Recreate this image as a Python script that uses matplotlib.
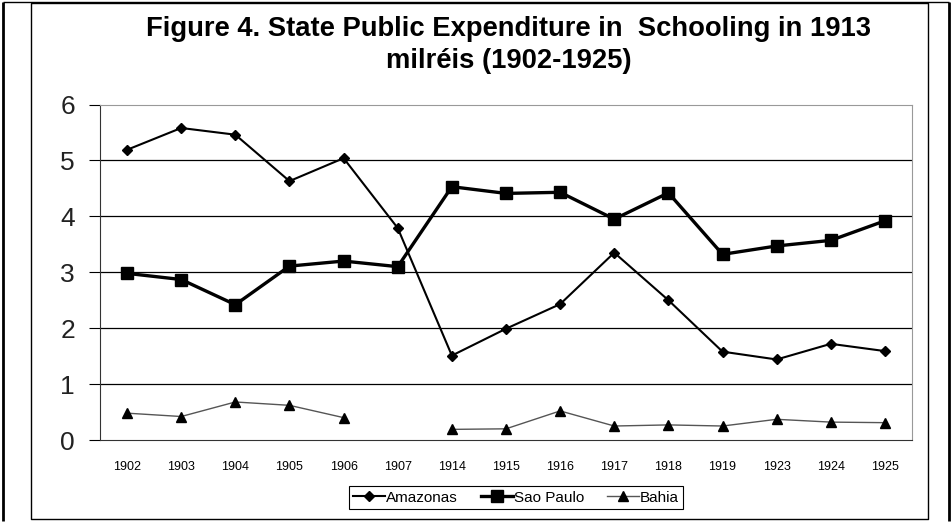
import numpy as np
import matplotlib
matplotlib.use("Agg")
import matplotlib.pyplot as plt
from matplotlib.lines import Line2D

years = ["1902", "1903", "1904", "1905", "1906", "1907", "1914", "1915",
         "1916", "1917", "1918", "1919", "1923", "1924", "1925"]
amazonas = [5.19, 5.58, 5.46, 4.63, 5.04, 3.79, 1.51, 1.99, 2.43, 3.35, 2.50,
            1.58, 1.44, 1.72, 1.59]
sao_paulo = [2.98, 2.87, 2.42, 3.11, 3.20, 3.10, 4.53, 4.41, 4.43, 3.95, 4.42,
             3.32, 3.47, 3.57, 3.92]
bahia = [0.48, 0.42, 0.68, 0.62, 0.40, np.nan, 0.19, 0.20, 0.52, 0.25, 0.27,
         0.25, 0.37, 0.32, 0.31]

plt.rcParams['font.family'] = ['Liberation Sans', 'DejaVu Sans']

W, H = 953, 522
fig = plt.figure(figsize=(W / 100, H / 100), dpi=100, facecolor='white')

# plot area in pixel coords
left, right, top, bottom = 100, 912, 104.5, 440
ax = fig.add_axes([left / W, 1 - bottom / H, (right - left) / W, (bottom - top) / H])
ax.set_facecolor('white')

x = np.arange(len(years))
ax.plot(x, amazonas, color='black', lw=1.5, marker='D', ms=5.5, label='Amazonas')
ax.plot(x, sao_paulo, color='black', lw=2.4, marker='s', ms=9, label='Sao Paulo')
ax.plot(x, bahia, color='#555555', lw=1.0, marker='^', ms=6.5,
        mfc='black', mec='black', label='Bahia')

ax.set_xlim(-0.5, len(years) - 0.5)
ax.set_ylim(0, 6)
ax.set_yticks(range(7))
ax.set_xticks(x)
ax.set_xticklabels(years, fontsize=9)
ax.tick_params(axis='x', length=0, pad=15)
ax.tick_params(axis='y', length=8, width=0.8, labelsize=19, pad=10,
               labelcolor='#222222')

for yv in range(1, 6):
    ax.axhline(yv, color='black', lw=0.9, zorder=0)

ax.spines['left'].set_color('#333333')
ax.spines['bottom'].set_color('#333333')
ax.spines['top'].set_color('#999999')
ax.spines['right'].set_color('#999999')

fig.text(509 / W, 1 - 45 / H,
         "Figure 4. State Public Expenditure in  Schooling in 1913\nmilréis (1902-1925)",
         ha='center', va='center', fontsize=19.7, fontweight='bold',
         linespacing=1.3)

leg = fig.legend(loc='center', bbox_to_anchor=(516 / W, 1 - 497.5 / H), ncol=3,
                 fontsize=11, fancybox=False, edgecolor='black', framealpha=1,
                 handlelength=2.1, handletextpad=0.05, columnspacing=1.5,
                 borderpad=0.3, borderaxespad=0)
leg.get_frame().set_linewidth(0.8)


def px_line(xs, ys, lw):
    fig.add_artist(Line2D([v / W for v in xs], [1 - v / H for v in ys],
                          transform=fig.transFigure, color='black', lw=lw,
                          solid_capstyle='butt'))


# inner frame around the chart
px_line([31, 928, 928, 31, 31], [2.5, 2.5, 519, 519, 2.5], 1)
# page edges (kept off the outermost pixel)
px_line([3, 3], [1.5, 520.5], 2)
px_line([949.5, 949.5], [1.5, 520.5], 2)
px_line([3, 949.5], [1.5, 1.5], 1)

fig.savefig("out.png", dpi=100, facecolor='white')
